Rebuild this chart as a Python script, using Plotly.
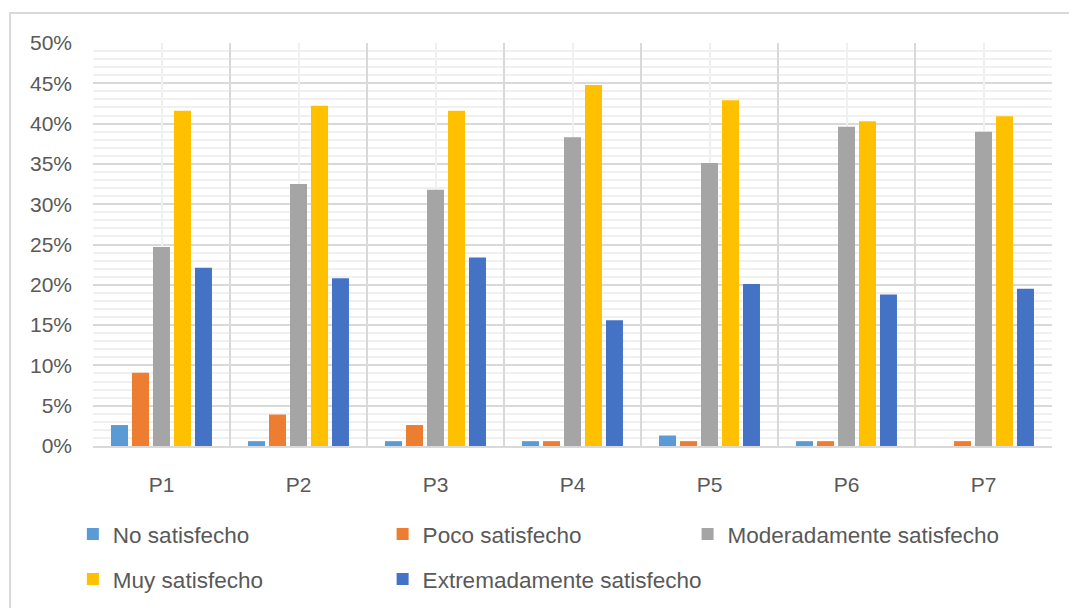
import plotly.graph_objects as go

# Share of respondents per satisfaction level, for each question
preguntas = ["P1", "P2", "P3", "P4", "P5", "P6", "P7"]
no_satisfecho = [0.026, 0.006, 0.006, 0.006, 0.013, 0.006, 0.000]
poco_satisfecho = [0.091, 0.039, 0.026, 0.006, 0.006, 0.006, 0.006]
moderadamente_satisfecho = [0.247, 0.325, 0.318, 0.383, 0.351, 0.396, 0.390]
muy_satisfecho = [0.416, 0.422, 0.416, 0.448, 0.429, 0.403, 0.409]
extremadamente_satisfecho = [0.221, 0.208, 0.234, 0.156, 0.201, 0.188, 0.195]

# name, values, colour, legend slot (x, y in paper units)
series = [
    ("No satisfecho", no_satisfecho, "#5B9BD5", "legend", -0.021, -0.219),
    ("Poco satisfecho", poco_satisfecho, "#ED7D31", "legend2", 0.302, -0.219),
    ("Moderadamente satisfecho", moderadamente_satisfecho, "#A5A5A5", "legend3", 0.620, -0.219),
    ("Muy satisfecho", muy_satisfecho, "#FFC000", "legend4", -0.021, -0.331),
    ("Extremadamente satisfecho", extremadamente_satisfecho, "#4472C4", "legend5", 0.302, -0.331),
]

FONT = "Liberation Sans, Arial, sans-serif"
TEXT = "#595959"
MAJOR = "#d9d9d9"
MINOR = "#f0f0f0"

fig = go.Figure()
legends = {}
for name, vals, color, leg, lx, ly in series:
    fig.add_trace(go.Bar(
        x=preguntas, y=vals, name=name, legend=leg,
        marker=dict(color=color, line=dict(width=0)),
    ))
    legends[leg] = dict(
        x=lx, y=ly, xanchor="left", yanchor="middle", orientation="h",
        font=dict(family=FONT, size=22.5, color=TEXT),
        bgcolor="rgba(0,0,0,0)", itemclick=False, itemdoubleclick=False,
    )

# invisible trace that carries the secondary x axis (light centre gridlines)
fig.add_trace(go.Scatter(x=[], y=[], xaxis="x2", showlegend=False, hoverinfo="skip"))

fig.update_layout(
    width=1069, height=608,
    margin=dict(l=93, r=17, t=43, b=162, autoexpand=False),
    paper_bgcolor="white", plot_bgcolor="white",
    barmode="group", bargap=0.234, bargroupgap=0.19,
    font=dict(family=FONT, size=21, color=TEXT),
    xaxis=dict(
        type="category", tickson="boundaries", showgrid=True,
        gridcolor=MAJOR, gridwidth=2, ticks="", showline=True,
        linecolor=MAJOR, linewidth=2, ticklabelstandoff=19,
        tickfont=dict(family=FONT, size=21, color=TEXT),
    ),
    xaxis2=dict(
        overlaying="x", anchor="y", range=[-0.5, 6.5], tick0=0, dtick=1,
        showgrid=True, gridcolor=MINOR, gridwidth=2, showticklabels=False,
        zeroline=False, ticks="", showline=False,
    ),
    yaxis=dict(
        range=[0, 0.5], dtick=0.05, tickformat=".0%", showgrid=True,
        gridcolor=MAJOR, gridwidth=2, zeroline=False, ticks="",
        ticklabelstandoff=20,
        tickfont=dict(family=FONT, size=21, color=TEXT),
        minor=dict(dtick=0.01, showgrid=True, gridcolor=MINOR, gridwidth=2),
    ),
    showlegend=True,
    shapes=[dict(
        type="rect", xref="paper", yref="paper",
        x0=-0.0865, x1=1.03, y0=-0.45, y1=1.0744,
        line=dict(color="#d9d9d9", width=2), fillcolor="rgba(0,0,0,0)",
        layer="below",
    )],
    **legends,
)

fig.write_html("out.html")
